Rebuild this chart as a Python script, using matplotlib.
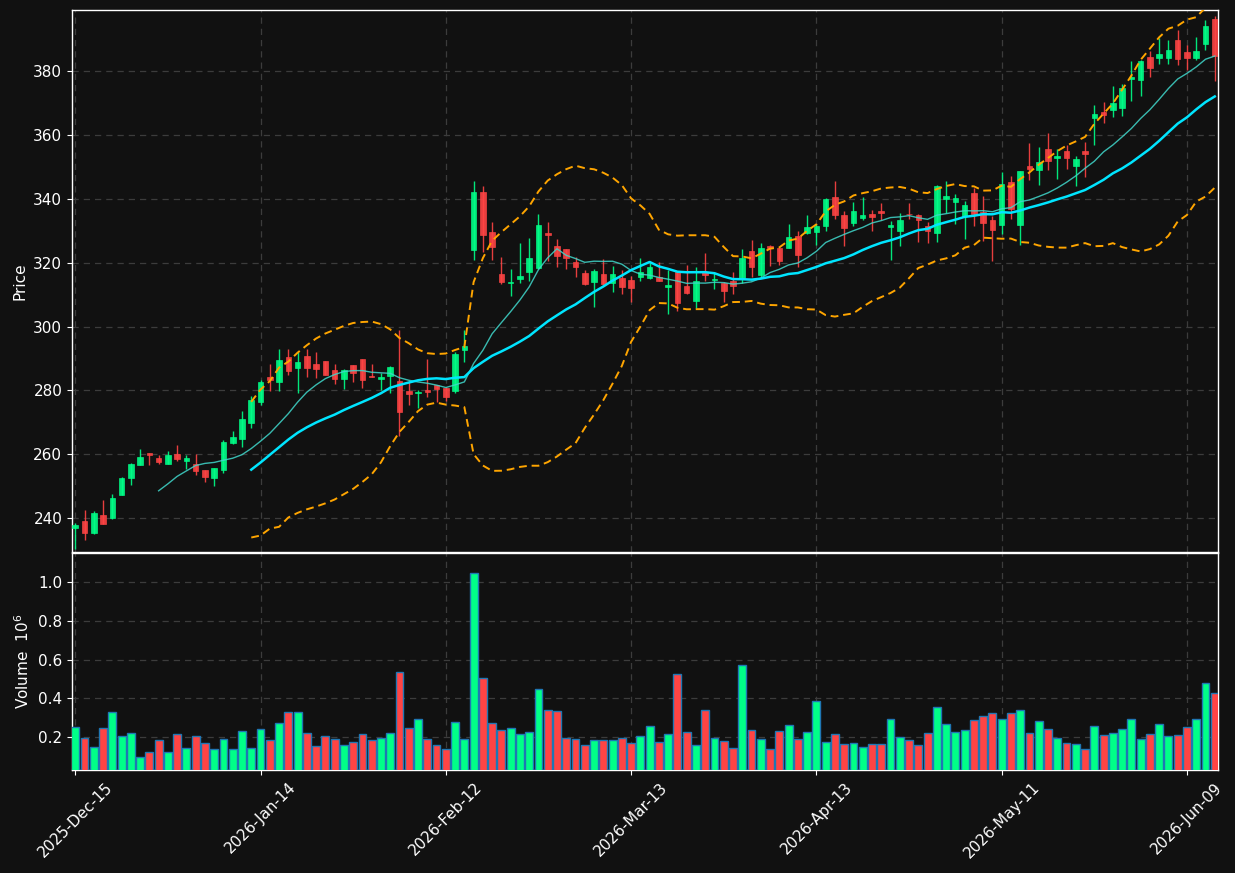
import numpy as np
import pandas as pd
import matplotlib
matplotlib.use("Agg")
import matplotlib.pyplot as plt

# ---------------- data ----------------
opens = [236.8, 239.2, 235.2, 241.0, 239.9, 247.1, 252.7, 256.5, 260.4, 258.9,
         257.1, 260.1, 258.0, 256.9, 255.1, 252.7, 255.2, 263.6, 264.9, 269.9,
         276.5, 284.2, 282.7, 290.3, 287.1, 290.7, 288.2, 289.2, 286.4, 283.6,
         287.9, 289.8, 284.5, 283.6, 284.4, 282.9, 279.8, 279.1, 280.0, 281.6,
         280.9, 279.8, 292.5, 323.8, 342.0, 329.7, 316.5, 313.7, 315.0, 317.0,
         318.2, 329.4, 325.2, 324.3, 320.3, 316.9, 313.8, 316.5, 313.6, 315.3,
         314.7, 315.4, 315.1, 315.6, 312.4, 317.0, 312.7, 307.9, 317.2, 314.5,
         313.75, 314.1, 315.2, 323.75, 316.0, 325.3, 324.6, 324.6, 328.4, 329.3,
         329.6, 331.5, 340.7, 335.0, 332.4, 334.0, 335.1, 336.25, 331.1, 329.9,
         335.3, 335.0, 331.6, 329.3, 339.8, 339.0, 334.6, 341.9, 336.0, 333.4,
         331.7, 345.4, 331.7, 350.2, 348.9, 355.5, 352.7, 355.1, 350.2, 354.8,
         365.3, 367.3, 367.7, 368.3, 377.6, 377.1, 384.3, 384.1, 384.1, 389.6,
         386.1, 384.1, 388.5, 396.2]
highs = [238.5, 242.6, 242.2, 245.6, 247.5, 252.9, 257.3, 261.7, 260.5, 259.9,
         261.0, 262.8, 259.9, 260.0, 255.2, 255.8, 264.4, 267.3, 273.4, 278.4,
         283.4, 288.4, 293.1, 292.9, 291.9, 293.1, 291.9, 289.3, 288.3, 286.6,
         288.0, 289.9, 288.4, 285.4, 287.6, 298.8, 282.6, 280.2, 289.7, 281.7,
         281.0, 292.0, 298.8, 345.6, 343.9, 332.8, 321.8, 318.0, 326.2, 327.7,
         335.3, 332.7, 327.4, 324.4, 321.9, 317.7, 317.9, 321.2, 319.0, 317.7,
         315.9, 321.4, 320.0, 320.3, 317.8, 317.1, 319.3, 318.75, 323.1, 317.2,
         313.8, 317.0, 324.3, 327.2, 326.1, 325.4, 324.7, 332.1, 330.0, 334.9,
         332.0, 340.1, 345.6, 336.25, 338.9, 340.6, 336.5, 338.75, 332.9, 335.6,
         338.75, 335.1, 332.8, 344.2, 345.6, 341.6, 339.4, 343.3, 340.8, 334.5,
         348.3, 347.0, 348.7, 357.5, 356.1, 360.7, 355.6, 356.7, 353.3, 357.9,
         369.2, 370.2, 375.2, 375.9, 383.2, 383.3, 386.2, 390.2, 389.8, 392.7,
         388.0, 390.8, 395.9, 397.1]
lows = [230.3, 233.1, 235.0, 238.1, 239.6, 247.1, 250.3, 256.5, 256.6, 256.8,
        257.1, 257.8, 255.3, 253.4, 251.3, 250.0, 254.1, 263.1, 262.3, 268.1,
        275.3, 279.7, 279.7, 284.7, 279.2, 284.1, 284.0, 284.7, 282.1, 280.3,
        282.6, 280.6, 284.2, 280.0, 279.3, 265.7, 275.3, 274.6, 277.9, 276.5,
        276.7, 279.1, 288.9, 320.8, 323.2, 320.8, 313.3, 309.7, 313.5, 314.3,
        318.0, 320.4, 318.5, 317.9, 315.5, 312.9, 306.0, 313.0, 310.8, 310.2,
        307.6, 314.1, 315.0, 314.1, 304.0, 305.0, 310.3, 305.8, 314.4, 311.7,
        307.7, 310.3, 313.75, 315.6, 315.2, 318.9, 319.4, 324.5, 318.5, 329.0,
        325.4, 329.9, 333.75, 325.3, 331.35, 333.5, 330.0, 333.5, 320.9, 325.3,
        333.75, 326.6, 326.25, 326.5, 335.6, 332.2, 327.4, 331.6, 326.9, 320.6,
        329.0, 333.75, 325.6, 346.0, 344.4, 349.1, 346.3, 349.4, 343.9, 346.8,
        356.9, 363.8, 365.6, 365.9, 370.6, 372.2, 378.1, 382.3, 382.3, 382.0,
        380.4, 383.4, 386.5, 376.8]
closes = [237.9, 235.2, 241.7, 238.1, 246.4, 252.6, 257.0, 259.1, 259.9, 257.7,
          259.7, 258.6, 258.9, 254.9, 253.0, 255.7, 263.9, 265.4, 270.9, 277.0,
          282.6, 283.2, 289.5, 286.0, 288.9, 287.1, 286.8, 284.9, 283.6, 286.4,
          285.5, 283.3, 284.3, 284.2, 287.3, 273.3, 279.0, 279.5, 279.6, 280.5,
          278.0, 291.4, 293.8, 342.0, 328.5, 325.0, 314.0, 314.0, 315.9, 321.5,
          331.9, 328.6, 322.0, 321.4, 318.5, 313.2, 317.5, 313.4, 316.4, 312.3,
          312.1, 317.2, 318.75, 314.2, 313.1, 307.3, 310.4, 314.4, 316.1, 315.0,
          311.0, 312.6, 321.6, 318.5, 324.7, 324.6, 320.6, 328.1, 322.3, 331.25,
          331.35, 340.0, 334.8, 330.8, 336.25, 335.0, 334.3, 335.5, 331.9, 333.4,
          335.2, 333.3, 329.9, 343.85, 340.9, 340.3, 338.2, 335.1, 332.4, 330.2,
          344.5, 336.8, 348.6, 349.3, 351.6, 351.8, 353.4, 352.9, 352.6, 354.0,
          366.4, 366.3, 370.1, 374.6, 378.0, 383.1, 380.9, 385.3, 386.5, 383.8,
          384.1, 386.4, 394.1, 384.7]
volumes = [0.250, 0.193, 0.147, 0.245, 0.328, 0.203, 0.219, 0.095, 0.121, 0.183,
           0.121, 0.214, 0.141, 0.203, 0.169, 0.136, 0.188, 0.136, 0.229, 0.141,
           0.240, 0.183, 0.271, 0.328, 0.328, 0.219, 0.152, 0.203, 0.188, 0.157,
           0.172, 0.214, 0.183, 0.193, 0.219, 0.534, 0.245, 0.291, 0.188, 0.157,
           0.136, 0.276, 0.188, 1.047, 0.503, 0.271, 0.234, 0.245, 0.214, 0.224,
           0.447, 0.338, 0.333, 0.193, 0.188, 0.157, 0.183, 0.183, 0.183, 0.193,
           0.167, 0.203, 0.255, 0.172, 0.214, 0.524, 0.224, 0.157, 0.338, 0.193,
           0.178, 0.141, 0.571, 0.234, 0.188, 0.136, 0.229, 0.260, 0.188, 0.224,
           0.384, 0.172, 0.214, 0.162, 0.167, 0.147, 0.162, 0.162, 0.291, 0.198,
           0.183, 0.157, 0.219, 0.353, 0.266, 0.224, 0.234, 0.286, 0.307, 0.322,
           0.291, 0.322, 0.338, 0.219, 0.281, 0.240, 0.193, 0.167, 0.162, 0.136,
           0.255, 0.209, 0.219, 0.240, 0.291, 0.188, 0.214, 0.266, 0.203, 0.209,
           0.250, 0.291, 0.478, 0.426]
tick_labels = ["2025-Dec-15", "2026-Jan-14", "2026-Feb-12", "2026-Mar-13",
               "2026-Apr-13", "2026-May-11", "2026-Jun-09"]
tick_step = 20
ma_short, ma_long, bb_period, bb_k = 10, 20, 20, 2

# ---------------- styling ----------------
BG = "#111111"
UP, DOWN = "#00ff88", "#ff4444"
GRID = "#3c3c3c"

o = np.array(opens); h = np.array(highs); l = np.array(lows); c = np.array(closes)
v = np.array(volumes)
x = np.arange(len(c))
up = c >= o
cols = np.where(up, UP, DOWN)

cs = pd.Series(c)
ma1 = cs.rolling(ma_short).mean()
ma2 = cs.rolling(ma_long).mean()
mid = cs.rolling(bb_period).mean()
sd = cs.rolling(bb_period).std(ddof=0)
bb_up = mid + bb_k * sd
bb_lo = mid - bb_k * sd

fig = plt.figure(figsize=(12.35, 8.73), dpi=100, facecolor=BG)
ax = fig.add_axes([72/1235, 1-552/873, (1218-72)/1235, (552-10)/873])
axv = fig.add_axes([72/1235, 1-770/873, (1218-72)/1235, (770-553)/873], sharex=ax)

for a in (ax, axv):
    a.set_facecolor(BG)
    for s in a.spines.values():
        s.set_color("white")
        s.set_linewidth(1.0)
    a.tick_params(colors="white", labelsize=11)
    a.grid(True, color=GRID, linestyle=(0, (5, 4)), linewidth=0.9)
    a.set_axisbelow(True)

# candles
ax.vlines(x, l, h, colors=cols, linewidth=1.0, alpha=0.9, zorder=2)
body_h = np.abs(c - o)
body_h = np.where(body_h < 0.15, 0.15, body_h)
ax.bar(x, body_h, bottom=np.minimum(o, c), width=0.6, color=cols,
       edgecolor=cols, linewidth=0.5, alpha=0.9, zorder=3)

# indicators
ax.plot(x, ma1, color="#40d8cc", linewidth=1.0, alpha=0.85, zorder=4)
ax.plot(x, ma2, color="#00e5ff", linewidth=1.8, zorder=4)
ax.plot(x, bb_up, color="#ffa500", linewidth=1.4, linestyle=(0, (4, 2.5)), zorder=4)
ax.plot(x, bb_lo, color="#ffa500", linewidth=1.4, linestyle=(0, (4, 2.5)), zorder=4)

ax.set_ylim(229.4, 399.1)
ax.set_yticks(np.arange(240, 381, 20))
ax.set_ylabel("Price", color="white", fontsize=11)
ax.tick_params(axis="x", labelbottom=False, length=0)

# volume
axv.bar(x, v, width=0.85, color=cols, edgecolor="#1f77b4", linewidth=1.0, zorder=3)
axv.set_ylim(0.3 * v.min(), 1.1 * v.max())
axv.set_yticks([0.2, 0.4, 0.6, 0.8, 1.0])
axv.set_yticklabels(["0.2", "0.4", "0.6", "0.8", "1.0"])
axv.set_ylabel("Volume  $10^{6}$", color="white", fontsize=11)

ticks = np.arange(0, len(c), tick_step)[:len(tick_labels)]
axv.set_xticks(ticks)
axv.set_xticklabels(tick_labels, rotation=45, color="white", fontsize=11)
axv.set_xlim(-0.35, len(c) - 1 + 0.35)

fig.savefig("out.png", dpi=100, facecolor=BG)
